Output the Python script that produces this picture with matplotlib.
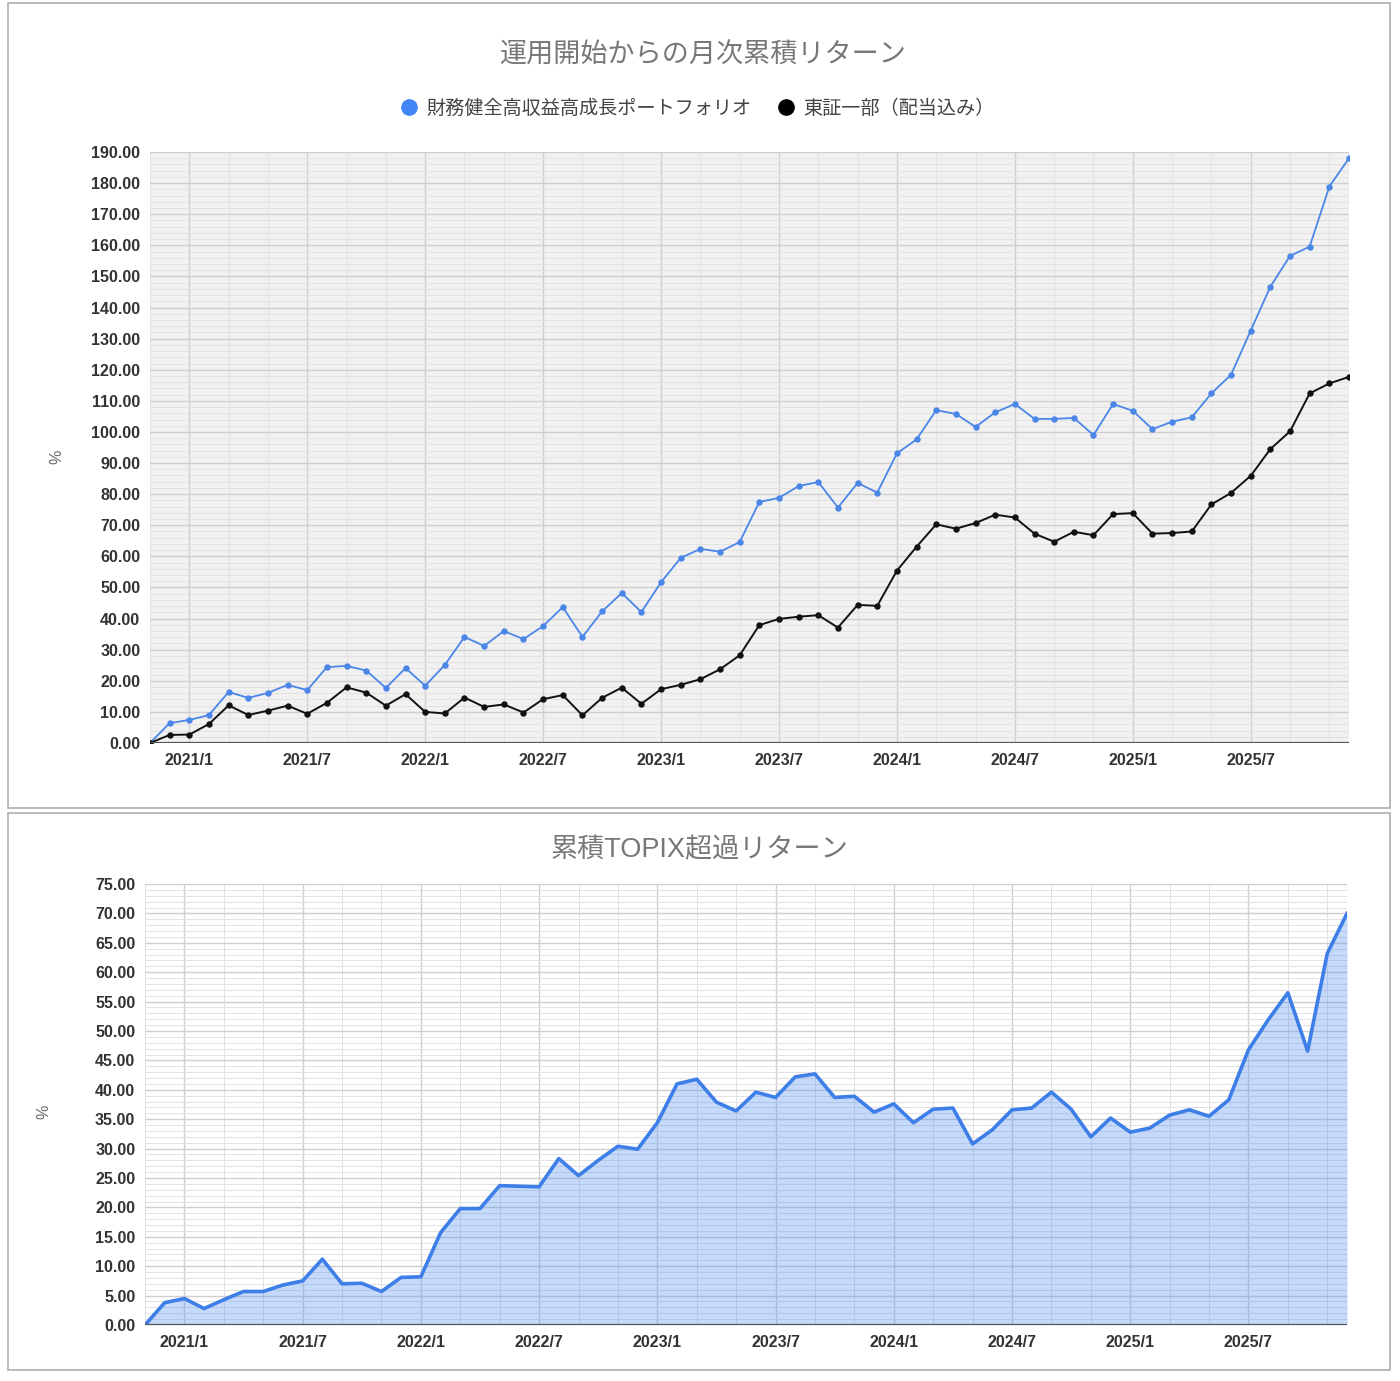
import matplotlib
matplotlib.use('Agg')
import matplotlib.pyplot as plt
from matplotlib.patches import Rectangle
from matplotlib.lines import Line2D
from matplotlib.ticker import MultipleLocator, FixedLocator, FuncFormatter
import pandas as pd

plt.rcParams['font.family'] = ['Liberation Sans', 'Noto Sans CJK JP', 'DejaVu Sans']

# monthly data, 2020/11 .. 2025/12
months = pd.date_range('2020-11-01', periods=62, freq='MS')
month_labels = [f'{d.year}/{d.month}' for d in months]

portfolio = [0, 6.4, 7.4, 9.0, 16.4, 14.5, 16.1, 18.7, 17.0, 24.4, 24.8, 23.3,
             17.7, 24.1, 18.4, 25.1, 34.1, 31.2, 36.0, 33.4, 37.6, 43.7, 34.1,
             42.3, 48.2, 42.1, 51.7, 59.5, 62.4, 61.5, 64.6, 77.5, 78.8, 82.6,
             83.9, 75.7, 83.6, 80.5, 93.1, 97.6, 107.0, 105.8, 101.6, 106.3,
             109.0, 104.2, 104.2, 104.5, 99.0, 109.0, 106.8, 100.9, 103.3,
             104.7, 112.4, 118.4, 132.6, 146.7, 156.6, 159.6, 178.9, 188.0]
topix = [0, 2.6, 2.7, 6.1, 12.1, 9.0, 10.4, 12.0, 9.4, 12.9, 17.9, 16.2,
         12.0, 15.7, 10.0, 9.5, 14.6, 11.6, 12.4, 9.8, 14.1, 15.4, 8.9,
         14.5, 17.8, 12.6, 17.3, 18.7, 20.5, 23.7, 28.2, 37.9, 39.9, 40.6,
         41.1, 37.1, 44.4, 44.1, 55.4, 63.1, 70.3, 68.9, 70.7, 73.4,
         72.5, 67.3, 64.7, 67.9, 66.8, 73.6, 73.9, 67.3, 67.5,
         68.0, 76.7, 80.4, 85.9, 94.5, 100.2, 112.4, 115.6, 117.7]
excess = [0, 3.8, 4.5, 2.8, 4.3, 5.7, 5.7, 6.8, 7.5, 11.2, 7.0, 7.1,
          5.7, 8.1, 8.2, 15.7, 19.8, 19.8, 23.7, 23.6, 23.5, 28.3, 25.4,
          28.0, 30.4, 29.9, 34.4, 41.0, 41.8, 37.9, 36.4, 39.6, 38.7, 42.2,
          42.7, 38.7, 38.9, 36.2, 37.6, 34.4, 36.7, 36.9, 30.8, 33.2,
          36.6, 36.9, 39.6, 36.7, 32.0, 35.2, 32.8, 33.5, 35.7, 36.6,
          35.5, 38.3, 46.8, 51.9, 56.5, 46.6, 63.2, 70.0]

series_names = ['財務健全高収益高成長ポートフォリオ', '東証一部（配当込み）']

W, H = 1400, 1381
fig = plt.figure(figsize=(W / 100, H / 100), dpi=100)


def px_axes(left, top, right, bottom):
    return fig.add_axes([left / W, 1 - bottom / H, (right - left) / W, (bottom - top) / H])


# panel frames
for (x0, y0, x1, y1) in [(8, 3, 1390, 808), (8, 813, 1390, 1370)]:
    fig.patches.append(Rectangle((x0 / W, 1 - y1 / H), (x1 - x0) / W, (y1 - y0) / H,
                                 transform=fig.transFigure, fill=False,
                                 edgecolor='#b4b4b4', linewidth=1.3))

x = list(range(len(months)))
major_idx = [i for i, d in enumerate(months) if d.month in (1, 7)]
minor_idx = [i for i, d in enumerate(months) if d.month % 2 == 1]


def style_axes(ax, ymax, ystep, yminor, face):
    ax.set_facecolor(face)
    ax.set_xlim(0, len(months) - 1)
    ax.set_ylim(0, ymax)
    ax.xaxis.set_major_locator(FixedLocator(major_idx))
    ax.xaxis.set_minor_locator(FixedLocator(minor_idx))
    ax.xaxis.set_major_formatter(FuncFormatter(lambda v, p: month_labels[int(round(v))]))
    ax.yaxis.set_major_locator(MultipleLocator(ystep))
    ax.yaxis.set_minor_locator(MultipleLocator(yminor))
    ax.yaxis.set_major_formatter(FuncFormatter(lambda v, p: f'{v:.2f}'))
    ax.grid(True, which='major', color='#cfcfcf', linewidth=1.0)
    ax.grid(True, which='minor', color='#e2e2e2', linewidth=0.7)
    ax.set_axisbelow(True)
    ax.tick_params(which='both', length=0)
    ax.tick_params(axis='x', pad=7, labelsize=11.5, labelcolor='#333333')
    ax.tick_params(axis='y', pad=7, labelsize=11.5, labelcolor='#333333')
    for s in ax.spines.values():
        s.set_visible(False)
    ax.axhline(0, color='#555555', linewidth=1.6, zorder=5)


# top chart: cumulative returns
ax1 = px_axes(150, 152, 1349, 743)
style_axes(ax1, 190, 10, 2, '#f1f1f1')
ax1.plot(x, portfolio, color='#4a86e8', linewidth=1.3, marker='o', markersize=3.6, zorder=4)
ax1.plot(x, topix, color='#111111', linewidth=1.4, marker='o', markersize=3.6, zorder=4)
ax1.set_ylabel('%', color='#666666', fontsize=11.5)
ax1.yaxis.set_label_coords(-0.071, 0.484)
for lab in ax1.get_xticklabels() + ax1.get_yticklabels():
    lab.set_fontweight('bold')

fig.text(703 / W, 1 - 56 / H, '運用開始からの月次累積リターン', ha='center', va='center',
         fontsize=19.5, color='#777777')

handles = [Line2D([], [], linestyle='none', marker='o', markersize=11, color='#4285f4'),
           Line2D([], [], linestyle='none', marker='o', markersize=11, color='#000000')]
fig.legend(handles, series_names, loc='center', bbox_to_anchor=(698 / W, 1 - 109 / H),
           ncol=2, frameon=False, fontsize=13.8, handlelength=0.8, handletextpad=0.5,
           columnspacing=1.4, labelcolor='#444444')

# bottom chart: cumulative excess return
ax2 = px_axes(145, 884, 1347, 1325)
style_axes(ax2, 75, 5, 1, '#ffffff')
ax2.fill_between(x, excess, 0, color='#4285f4', alpha=0.3, linewidth=0, zorder=3)
ax2.plot(x, excess, color='#3d7ee8', linewidth=2.6, zorder=4)
ax2.set_ylabel('%', color='#666666', fontsize=11.5)
ax2.yaxis.set_label_coords(-0.078, 0.483)
for lab in ax2.get_xticklabels() + ax2.get_yticklabels():
    lab.set_fontweight('bold')

fig.text(700 / W, 1 - 850 / H, '累積TOPIX超過リターン', ha='center', va='center',
         fontsize=19.5, color='#777777')

fig.savefig('out.png', dpi=100, facecolor='white')
